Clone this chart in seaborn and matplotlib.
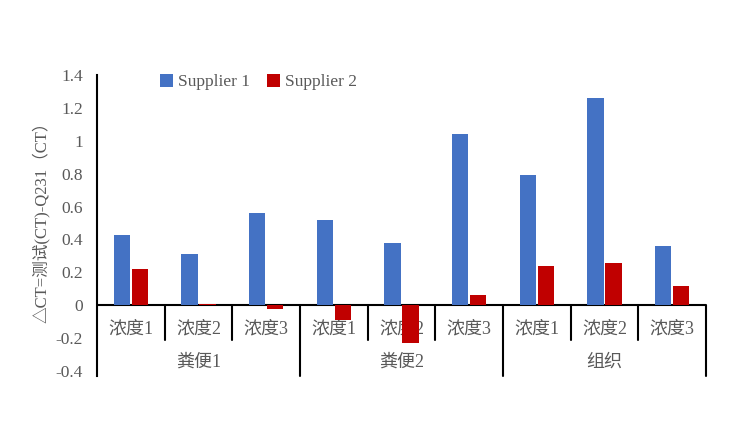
import pandas as pd
import numpy as np
import seaborn as sns
import matplotlib.pyplot as plt
import matplotlib as mpl

sns.set_style('white')
plt.rcParams['font.family'] = ['Liberation Serif', 'Noto Sans CJK SC', 'DejaVu Sans']
plt.rcParams['axes.unicode_minus'] = False

# data
groups = ['粪便1', '粪便2', '组织']
levels = ['浓度1', '浓度2', '浓度3']
supplier1 = [0.43, 0.31, 0.56, 0.52, 0.38, 1.04, 0.79, 1.26, 0.36]
supplier2 = [0.22, 0.01, -0.02, -0.09, -0.23, 0.06, 0.24, 0.26, 0.12]
series = ['Supplier 1', 'Supplier 2']
yticks = [-0.4, -0.2, 0, 0.2, 0.4, 0.6, 0.8, 1, 1.2, 1.4]

cats = [g + '-' + l for g in groups for l in levels]
df = pd.DataFrame({
    'cat': cats * 2,
    'value': supplier1 + supplier2,
    'supplier': [series[0]] * 9 + [series[1]] * 9,
})

grey = '#595959'
fig = plt.figure(figsize=(7.3, 4.41), dpi=100)
ax = fig.add_axes([97 / 730, 1 - 376 / 441, (706 - 97) / 730, (376 - 75) / 441])

sns.barplot(data=df, x='cat', y='value', hue='supplier', order=cats,
            palette=['#4472C4', '#C00000'], saturation=1, width=0.53, gap=0.1,
            linewidth=0, ax=ax, legend=True)
for p in ax.patches:
    p.set_zorder(4)

ax.set_xlim(-0.5, 8.5)
ax.set_ylim(-0.43, 1.4)
ax.set_yticks(yticks)
ax.set_yticklabels(['{:g}'.format(v) for v in yticks], color=grey, fontsize=12.5)
ax.tick_params(axis='y', direction='in', length=8, width=1.5, color='black', pad=10)
ax.set_xticks([])
ax.set_xlabel('')
ax.set_ylabel('△CT=测试(CT)-Q231（CT）', color=grey, fontsize=12)
ax.yaxis.set_label_coords(-0.078, 0.525)

for s in ['top', 'right', 'bottom']:
    ax.spines[s].set_visible(False)
ax.spines['left'].set_linewidth(1.5)
ax.spines['left'].set_color('black')

# category axis at zero
ax.axhline(0, color='black', lw=1.5, zorder=3)
y_inner = -0.145
y_group = -0.345
for i, c in enumerate(cats):
    ax.text(i, y_inner, levels[i % 3], ha='center', va='center',
            fontsize=13, color=grey)
for i in range(9):
    x = i + 0.5
    if (i + 1) % 3 == 0:
        ax.plot([x, x], [0, -0.43], color='black', lw=1.5, clip_on=False)
    else:
        ax.plot([x, x], [0, -0.213], color='black', lw=1.5, clip_on=False)
for j, g in enumerate(groups):
    ax.text(j * 3 + 1, y_group, g, ha='center', va='center',
            fontsize=13, color=grey)

leg = ax.legend(loc='center left', bbox_to_anchor=(144 / 730, 1 - 82 / 441),
                bbox_transform=fig.transFigure, ncol=2, frameon=False,
                fontsize=12.5, handlelength=0.75, handleheight=0.75,
                handletextpad=0.3, columnspacing=1.0)
for t in leg.get_texts():
    t.set_color(grey)

plt.savefig('out.png', dpi=100)
